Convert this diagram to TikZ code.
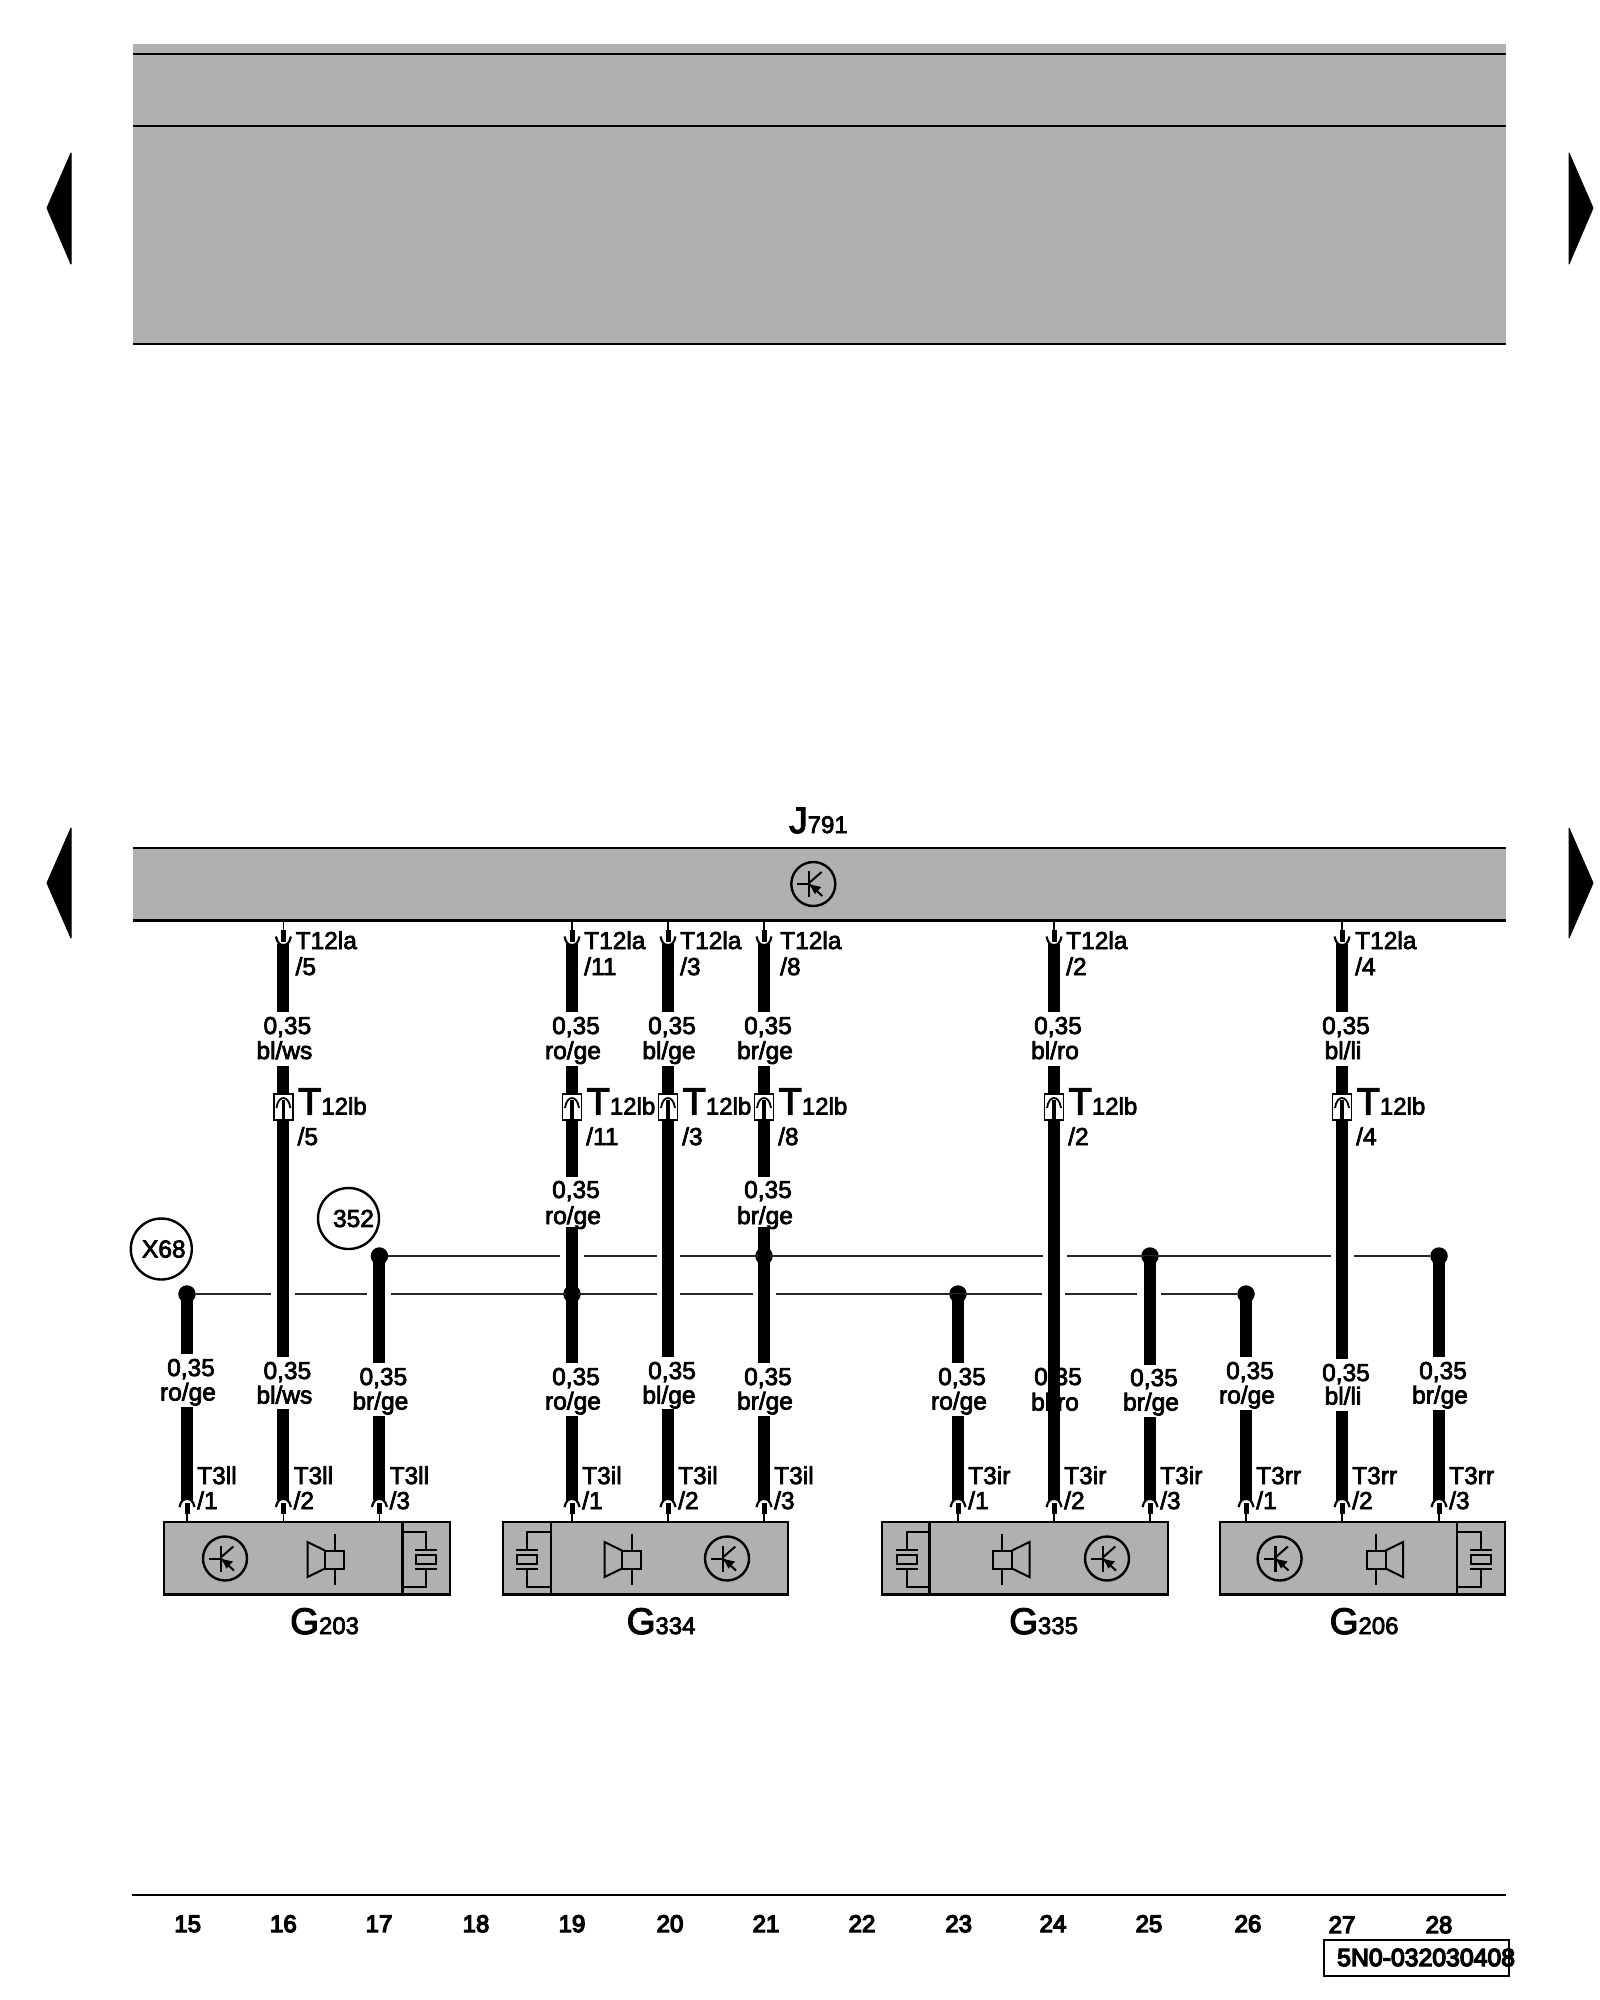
\documentclass[tikz,border=0pt]{standalone}
\usepackage{fontspec}
\setmainfont[FakeBold=3]{Liberation Sans}
\newfontfamily\footfont[FakeBold=5.5]{Liberation Sans}
\definecolor{panel}{HTML}{B0B0B0}
\definecolor{ink}{HTML}{000000}
\newcommand\fsz[1]{\fontsize{#1}{#1}\selectfont}
\tikzset{
  lab/.style={anchor=base,inner sep=0pt,font=\fsz{24.5},text=ink},
  labw/.style={anchor=base west,inner sep=0pt,font=\fsz{24.5},text=ink},
  wire/.style={line width=12pt,draw=ink},
  bus/.style={line width=2.2pt,draw=ink!85!white},
  hair/.style={line width=2.4pt,draw=ink},
  sym/.style={line width=2pt,draw=ink},
  dot/.style={circle,fill=ink,inner sep=0pt,minimum size=17.5pt},
  device/.style={rectangle,fill=panel,draw=ink,line width=2.2pt,inner sep=0pt,outer sep=0pt,minimum height=72.5pt},
  plug/.style={rectangle,fill=white,draw=ink,line width=1.8pt,inner sep=0pt,outer sep=0pt,minimum width=19pt,minimum height=26pt},
  balloon/.style={circle,draw=ink,line width=2.4pt,inner sep=0pt,outer sep=0pt,minimum size=61pt,font=\fsz{24.5},text=ink},
  foot/.style={anchor=base,inner sep=0pt,font=\footfont\fsz{24},text=ink},
  sidemark/.style={fill=ink,draw=ink,line width=1pt,line join=round}
}
% transistor symbol
\newcommand\trans[2]{\begin{scope}[shift={(#1,#2)}]
  \draw[line width=2.4pt,draw=ink] (0,0) circle (22);
  \draw[sym] (-16,0) -- (-4.3,0);
  \draw[sym,line width=2.4pt] (-4.3,-13) -- (-4.3,13);
  \draw[sym] (-4.3,-1) -- (8.3,-12);
  \draw[sym] (-4.3,0) -- (9,12);
  \fill[ink] (-3.5,0.5) -- (8,3) -- (1.5,10) -- cycle;
\end{scope}}
% loudspeaker: #1 = x of its axis, #2 = 1 opening left, -1 opening right
\newcommand\spk[2]{\begin{scope}[shift={(#1,1559.5)},xscale=#2]
  \draw[sym] (0,-26) -- (0,25);
  \draw[sym,fill=panel] (-10,-9) rectangle (9,9);
  \draw[sym] (-10,-9) -- (-27.5,-17.5) -- (-27.5,17.5) -- (-10,9);
\end{scope}}
% crystal element tied to the divider: #1 divider x, #2 element x
\newcommand\xtal[2]{%
  \draw[sym] (#1,1532) -- (#2,1532) -- (#2,1550);
  \draw[sym] (#2,1569) -- (#2,1587) -- (#1,1587);
  \draw[sym] ({#2-11},1550) -- ({#2+11},1550);
  \draw[sym] ({#2-11},1569) -- ({#2+11},1569);
  \draw[sym] ({#2-10},1555) rectangle ({#2+10},1564);
}
% upper wire: name, x, colour, pin, offset of the first connector label
\newcommand\upwire[5]{%
  \coordinate (a#1) at (#2,944);
  \coordinate (b#1) at (#2,1012);
  \coordinate (c#1) at (#2,1066);
  \coordinate (s#1) at (#2,920.5);
  \coordinate (m#1) at (#2,930);
  \coordinate (n#1) at (#2,942);
  \draw[hair,line width=1.8pt] (s#1) -- (m#1);
  \draw[line width=5pt,draw=ink] (m#1) -- (n#1);
  \draw[line width=2.2pt,draw=ink] ({#2-7.5},936.5) .. controls ({#2-6},943) and ({#2-4},945) .. (#2,945) .. controls ({#2+4},945) and ({#2+6},943) .. ({#2+7.5},936.5);
  \draw[wire] (a#1) -- (b#1);
  \node[labw] (la#1) at ({#2+#5},949) {T12la};
  \node[labw] (lp#1) at ({#2+#5},975) {/#4};
  \node[lab] (w#1) at ({#2+4},1034) {0,35};
  \node[lab] (v#1) at ({#2+1},1059) {#3};
  \node[plug] (k#1) at (#2,1107) {};
  \draw[wire] (c#1) -- (k#1.north);
  \node[labw,font=\fsz{38}] (lb#1) at ({#2+14.5},1114.5) {T\fsz{24}12lb};
  \node[labw] (lq#1) at ({#2+14},1145) {/#4};
}
\newcommand\plugin[2]{%
  \node[plug] (kk#1) at (#2,1107) {};
  \coordinate (ks#1) at (#2,1120);
  \coordinate (kt#1) at (#2,1100);
  \draw[line width=3.5pt,draw=ink] (kt#1) -- (ks#1);
  \draw[line width=1.8pt,draw=ink] ({#2-7},1108) .. controls ({#2-6},1101) and ({#2-3},1098) .. (#2,1098) .. controls ({#2+3},1098) and ({#2+6},1101) .. ({#2+7},1108);
}
% lower wire: name, x, start y, stop y, base1, base2, resume y, colour
\newcommand\lowwire[8]{%
  \coordinate (t#1) at (#2,#3);
  \coordinate (e#1) at (#2,#4);
  \coordinate (r#1) at (#2,#7);
  \coordinate (z#1) at (#2,1500);
  \node[lab] (y#1) at ({#2+4},{#5+1}) {0,35};
  \node[lab] (u#1) at ({#2+1},{#6+0.5}) {#8};
  \draw[wire] (t#1) -- (e#1);
  \draw[wire] (r#1) -- (z#1);
}
% lower connector: name, x, label, pin
\newcommand\botconn[4]{%
  \coordinate (h#1) at (#2,1522);
  \coordinate (i#1) at (#2,1514);
  \coordinate (f#1) at (#2,1503);
  \draw[hair,line width=1.8pt] (h#1) -- (i#1);
  \draw[line width=5pt,draw=ink] (i#1) -- (f#1);
  \draw[line width=2.2pt,draw=ink] ({#2-7.5},1507) .. controls ({#2-6},1501) and ({#2-4},1499) .. (#2,1499) .. controls ({#2+4},1499) and ({#2+6},1501) .. ({#2+7.5},1507);
  \node[labw] (o#1) at ({#2+10},1484) {#3};
  \node[labw] (q#1) at ({#2+10},1509) {/#4};
}
\begin{document}
\begin{tikzpicture}[x=1pt,y=-1pt]
\useasboundingbox (0,0) rectangle (1600,2000);
\fill[white] (0,0) rectangle (1600,2000);
% top panel
\node[rectangle,fill=panel,inner sep=0pt,outer sep=0pt,anchor=north west,minimum width=1373pt,minimum height=300pt] (toppanel) at (133,44) {};
\coordinate (tl1) at (133,54);  \coordinate (tr1) at (1506,54);
\coordinate (tl2) at (133,126); \coordinate (tr2) at (1506,126);
\coordinate (tl3) at (133,344); \coordinate (tr3) at (1506,344);
\draw[hair] (tl1) -- (tr1);
\draw[hair] (tl2) -- (tr2);
\draw[hair] (tl3) -- (tr3);
% side markers
\fill[sidemark] (47,208) -- (71,153) -- (71,264) -- cycle;
\fill[sidemark] (1593,208) -- (1569,153) -- (1569,264) -- cycle;
\fill[sidemark] (47,883) -- (71,828) -- (71,938) -- cycle;
\fill[sidemark] (1593,883) -- (1569,828) -- (1569,938) -- cycle;
% control unit
\node[rectangle,fill=panel,inner sep=0pt,outer sep=0pt,anchor=north west,minimum width=1373pt,minimum height=72pt] (jpanel) at (133,848) {};
\coordinate (jl1) at (133,848); \coordinate (jr1) at (1506,848);
\coordinate (jl2) at (133,920.5); \coordinate (jr2) at (1506,920.5);
\draw[hair] (jl1) -- (jr1);
\draw[hair] (jl2) -- (jr2);
\trans{813.3}{884}
\node[anchor=base west,inner sep=0pt,font=\fsz{37},text=ink] (J791) at (789,833) {J\fsz{24}791};
% buses
\node[dot] (d15) at (187,1294) {};
\node[dot] (d19) at (572,1294) {};
\node[dot] (d23) at (958,1294) {};
\node[dot] (d26) at (1246,1294) {};
\node[dot] (d17) at (379.4,1256) {};
\node[dot] (d21) at (764,1256) {};
\node[dot] (d25) at (1150,1256) {};
\node[dot] (d28) at (1439,1256) {};
\coordinate (g1) at (560,1256); \coordinate (g2) at (584,1256);
\coordinate (g3) at (657,1256); \coordinate (g4) at (680,1256);
\coordinate (g5) at (1043,1256); \coordinate (g6) at (1067,1256);
\coordinate (g7) at (1331,1256); \coordinate (g8) at (1354,1256);
\draw[bus] (d17) -- (g1);
\draw[bus] (g2) -- (g3);
\draw[bus] (g4) -- (g5);
\draw[bus] (g6) -- (g7);
\draw[bus] (g8) -- (d28);
\coordinate (h1) at (271,1294); \coordinate (h2) at (295,1294);
\coordinate (h3) at (367,1294); \coordinate (h4) at (391,1294);
\coordinate (h5) at (656.6,1294); \coordinate (h6) at (680,1294);
\coordinate (h7) at (753,1294); \coordinate (h8) at (776,1294);
\coordinate (h9) at (1042,1294); \coordinate (h10) at (1065,1294);
\coordinate (h11) at (1137,1294); \coordinate (h12) at (1161,1294);
\draw[bus] (d15) -- (h1);
\draw[bus] (h2) -- (h3);
\draw[bus] (h4) -- (h5);
\draw[bus] (h6) -- (h7);
\draw[bus] (h8) -- (h9);
\draw[bus] (h10) -- (h11);
\draw[bus] (h12) -- (d26);
% upper wires
\upwire{16}{283.4}{bl/ws}{5}{12}
\upwire{19}{572}{ro/ge}{11}{12}
\upwire{20}{668}{bl/ge}{3}{12}
\upwire{21}{764}{br/ge}{8}{16}
\upwire{24}{1054}{bl/ro}{2}{12}
\upwire{27}{1342}{bl/li}{4}{13}
% middle labels on the two wires that carry them
\coordinate (mm19) at (572,1120); \coordinate (mn19) at (572,1177);
\coordinate (mm21) at (764,1120); \coordinate (mn21) at (764,1177);
\draw[wire] (mm19) -- (mn19);
\draw[wire] (mm21) -- (mn21);
\node[lab] (mw19) at (576,1198) {0,35};
\node[lab] (mv19) at (573,1224) {ro/ge};
\node[lab] (mw21) at (768,1198) {0,35};
\node[lab] (mv21) at (765,1224) {br/ge};
% lower wires
\lowwire{15}{187}{1294}{1354}{1375}{1400}{1407}{ro/ge}
\lowwire{16}{283.4}{1120}{1357}{1378}{1403}{1409}{bl/ws}
\lowwire{17}{379.4}{1256}{1363}{1384}{1409}{1416}{br/ge}
\lowwire{19}{572}{1227}{1363}{1384}{1409}{1416}{ro/ge}
\lowwire{20}{668}{1120}{1357}{1378}{1403}{1409}{bl/ge}
\lowwire{21}{764}{1227}{1363}{1384}{1409}{1416}{br/ge}
\lowwire{23}{958}{1294}{1363}{1384}{1409}{1416}{ro/ge}
\lowwire{24}{1054}{1120}{1500}{1384}{1410}{1500}{bl/ro}
\lowwire{25}{1150}{1256}{1365}{1385}{1410}{1417}{br/ge}
\lowwire{26}{1246}{1294}{1357}{1378}{1403}{1410}{ro/ge}
\lowwire{27}{1342}{1120}{1359}{1380}{1404}{1411}{bl/li}
\lowwire{28}{1439}{1256}{1357}{1378}{1403}{1410}{br/ge}
% plugs on top of the wires
\plugin{16}{283.4}
\plugin{19}{572}
\plugin{20}{668}
\plugin{21}{764}
\plugin{24}{1054}
\plugin{27}{1342}
% connectors
\botconn{15}{187}{T3ll}{1}
\botconn{16}{283.4}{T3ll}{2}
\botconn{17}{379.4}{T3ll}{3}
\botconn{19}{572}{T3il}{1}
\botconn{20}{668}{T3il}{2}
\botconn{21}{764}{T3il}{3}
\botconn{23}{958}{T3ir}{1}
\botconn{24}{1054}{T3ir}{2}
\botconn{25}{1150}{T3ir}{3}
\botconn{26}{1246}{T3rr}{1}
\botconn{27}{1342}{T3rr}{2}
\botconn{28}{1439}{T3rr}{3}
% devices
\node[device,minimum width=286pt,anchor=north west] (G203) at (163.7,1522) {};
\node[device,minimum width=285pt,anchor=north west] (G334) at (503,1522) {};
\node[device,minimum width=286pt,anchor=north west] (G335) at (882,1522) {};
\node[device,minimum width=285pt,anchor=north west] (G206) at (1220,1522) {};
\coordinate (p1a) at (402.6,1522); \coordinate (p1b) at (402.6,1594.5);
\coordinate (p2a) at (551,1522); \coordinate (p2b) at (551,1594.5);
\coordinate (p3a) at (929.5,1522); \coordinate (p3b) at (929.5,1594.5);
\coordinate (p4a) at (1457,1522); \coordinate (p4b) at (1457,1594.5);
\draw[hair] (p1a) -- (p1b);
\draw[hair] (p2a) -- (p2b);
\draw[hair] (p3a) -- (p3b);
\draw[hair] (p4a) -- (p4b);
\trans{225}{1558.5}
\trans{727}{1558.5}
\trans{1107}{1558.5}
\trans{1279.6}{1558.5}
\spk{335}{1}
\spk{632}{1}
\spk{1002}{-1}
\spk{1375.5}{-1}
\xtal{402.6}{425.8}
\xtal{551}{527}
\xtal{929.5}{907}
\xtal{1457}{1481}
% device names
\node[anchor=base west,inner sep=0pt,font=\fsz{37},text=ink] (nG203) at (290,1634) {G\fsz{24}203};
\node[anchor=base west,inner sep=0pt,font=\fsz{37},text=ink] (nG334) at (626.5,1634) {G\fsz{24}334};
\node[anchor=base west,inner sep=0pt,font=\fsz{37},text=ink] (nG335) at (1009,1634) {G\fsz{24}335};
\node[anchor=base west,inner sep=0pt,font=\fsz{37},text=ink] (nG206) at (1329.5,1634) {G\fsz{24}206};
% balloons
\node[balloon] (X68) at (161.3,1249) {\kern5pt\raisebox{-1.5pt}{X68}};
\node[balloon] (b352) at (348.5,1218.5) {\kern10pt\raisebox{-1.5pt}{352}};
% footer
\coordinate (fl) at (132,1895); \coordinate (fr) at (1506,1895);
\draw[hair] (fl) -- (fr);
\node[foot] (col15) at (187.7,1932) {15};
\node[foot] (col16) at (283.4,1932) {16};
\node[foot] (col17) at (379,1932) {17};
\node[foot] (col18) at (476,1932) {18};
\node[foot] (col19) at (572,1932) {19};
\node[foot] (col20) at (670,1932) {20};
\node[foot] (col21) at (766,1932) {21};
\node[foot] (col22) at (862,1932) {22};
\node[foot] (col23) at (958.7,1932) {23};
\node[foot] (col24) at (1053,1932) {24};
\node[foot] (col25) at (1149,1932) {25};
\node[foot] (col26) at (1248,1932) {26};
\node[foot] (col27) at (1342,1933) {27};
\node[foot] (col28) at (1439,1933) {28};
\node[rectangle,draw=ink,line width=2.4pt,inner sep=0pt,outer sep=0pt,anchor=north west,minimum width=184.7pt,minimum height=36pt] (stamp) at (1324,1940) {};
\node[anchor=base west,inner sep=0pt,font=\footfont\fsz{24.8},text=ink] (stampt) at (1337,1966) {5N0-032030408};
\end{tikzpicture}
\end{document}
